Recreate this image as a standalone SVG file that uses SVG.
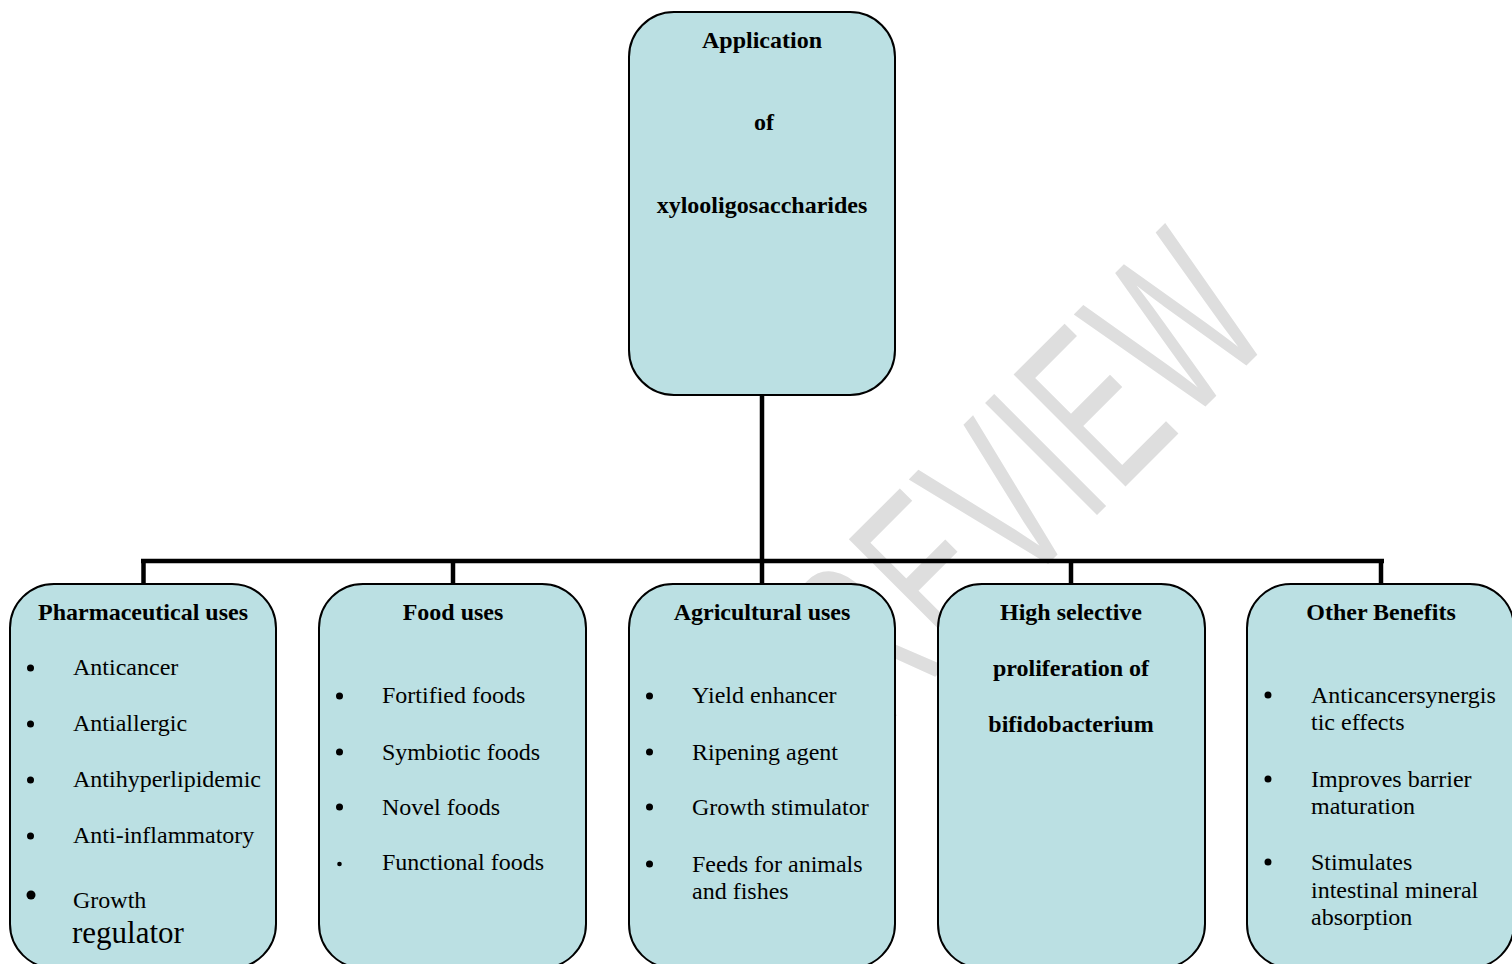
<svg xmlns="http://www.w3.org/2000/svg" width="1512" height="964" viewBox="0 0 1512 964">
  <style>
    .box { fill: #BBE0E3; stroke: #000; stroke-width: 2; }
    .t { font-family: "Liberation Serif", "Times New Roman", serif; font-size: 24px; fill: #000; }
    .b { font-weight: bold; text-anchor: middle; }
    .bul { fill: #000; }
    .conn { stroke: #000; stroke-width: 4.5; fill: none; }
    .wm { font-family: "Liberation Sans", Arial, sans-serif; font-size: 230px; fill: #dedede; letter-spacing: 6px; }
  </style>
  <rect width="1512" height="964" fill="#fff"/>

  <g id="watermark">
    <text class="wm" transform="translate(812,800) rotate(-45) scale(0.6,1)">PREVIEW</text>
  </g>

  <g id="connectors">
    <line class="conn" x1="762" y1="394" x2="762" y2="561"/>
    <line class="conn" x1="141" y1="561" x2="1384" y2="561"/>
    <line class="conn" x1="143.5" y1="559" x2="143.5" y2="585"/>
    <line class="conn" x1="453" y1="561" x2="453" y2="585"/>
    <line class="conn" x1="762" y1="561" x2="762" y2="585"/>
    <line class="conn" x1="1071" y1="561" x2="1071" y2="585"/>
    <line class="conn" x1="1381" y1="559" x2="1381" y2="585"/>
  </g>

  <g id="root">
    <rect class="box" x="629" y="12" width="266" height="383" rx="45" ry="45"/>
    <text class="t b" x="762" y="48">Application</text>
    <text class="t b" x="764" y="130">of</text>
    <text class="t b" x="762" y="213">xylooligosaccharides</text>
  </g>

  <g id="pharma">
    <rect class="box" x="10" y="584" width="266" height="384" rx="44" ry="44"/>
    <text class="t b" x="143" y="620">Pharmaceutical uses</text>
    <circle class="bul" cx="30.5" cy="668" r="3.5"/>
    <circle class="bul" cx="30.5" cy="724" r="3.5"/>
    <circle class="bul" cx="30.5" cy="780" r="3.5"/>
    <circle class="bul" cx="30.5" cy="836" r="3.5"/>
    <circle class="bul" cx="31" cy="895" r="4.5"/>
    <text class="t" x="73" y="675">Anticancer</text>
    <text class="t" x="73" y="731">Antiallergic</text>
    <text class="t" x="73" y="787">Antihyperlipidemic</text>
    <text class="t" x="73" y="843">Anti-inflammatory</text>
    <text class="t" x="73" y="908">Growth</text>
    <text class="t" x="72" y="943" style="font-size:31px">regulator</text>
  </g>

  <g id="food">
    <rect class="box" x="319" y="584" width="267" height="384" rx="44" ry="44"/>
    <text class="t b" x="453" y="620">Food uses</text>
    <circle class="bul" cx="339.5" cy="696" r="3.5"/>
    <circle class="bul" cx="339.5" cy="752" r="3.5"/>
    <circle class="bul" cx="339.5" cy="807" r="3.5"/>
    <circle class="bul" cx="339.5" cy="864" r="2.3"/>
    <text class="t" x="382" y="703">Fortified foods</text>
    <text class="t" x="382" y="760">Symbiotic foods</text>
    <text class="t" x="382" y="815">Novel foods</text>
    <text class="t" x="382" y="870">Functional foods</text>
  </g>

  <g id="agri">
    <rect class="box" x="629" y="584" width="266" height="384" rx="44" ry="44"/>
    <text class="t b" x="762" y="620">Agricultural uses</text>
    <circle class="bul" cx="649.5" cy="696" r="3.5"/>
    <circle class="bul" cx="649.5" cy="752" r="3.5"/>
    <circle class="bul" cx="649.5" cy="807" r="3.5"/>
    <circle class="bul" cx="649.5" cy="864" r="3.5"/>
    <text class="t" x="692" y="703">Yield enhancer</text>
    <text class="t" x="692" y="760">Ripening agent</text>
    <text class="t" x="692" y="815">Growth stimulator</text>
    <text class="t" x="692" y="872">Feeds for animals</text>
    <text class="t" x="692" y="899">and fishes</text>
  </g>

  <g id="bifido">
    <rect class="box" x="938" y="584" width="267" height="384" rx="44" ry="44"/>
    <text class="t b" x="1071" y="620">High selective</text>
    <text class="t b" x="1071" y="676">proliferation of</text>
    <text class="t b" x="1071" y="732">bifidobacterium</text>
  </g>

  <g id="other">
    <rect class="box" x="1247" y="584" width="267" height="384" rx="44" ry="44"/>
    <text class="t b" x="1381" y="620">Other Benefits</text>
    <circle class="bul" cx="1268" cy="695" r="3.5"/>
    <circle class="bul" cx="1268" cy="779" r="3.5"/>
    <circle class="bul" cx="1268" cy="862" r="3.5"/>
    <text class="t" x="1311" y="703">Anticancersynergis</text>
    <text class="t" x="1311" y="730">tic effects</text>
    <text class="t" x="1311" y="787">Improves barrier</text>
    <text class="t" x="1311" y="814">maturation</text>
    <text class="t" x="1311" y="870">Stimulates</text>
    <text class="t" x="1311" y="898">intestinal mineral</text>
    <text class="t" x="1311" y="925">absorption</text>
  </g>
</svg>
